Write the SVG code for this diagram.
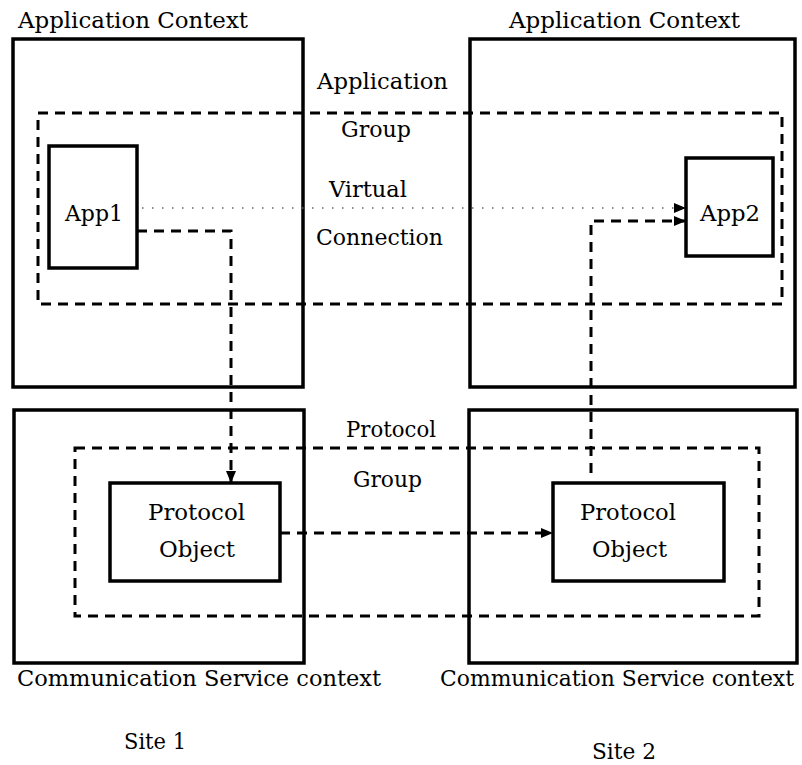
<svg xmlns="http://www.w3.org/2000/svg" width="802" height="765" viewBox="0 0 802 765">
<defs>
<style>
.box{fill:none;stroke:#000;stroke-width:3.5}
.grp{fill:none;stroke:#000;stroke-width:3;stroke-dasharray:10 7}
.con{fill:none;stroke:#000;stroke-width:3;stroke-dasharray:10 7}
.dot{fill:none;stroke:#666;stroke-width:1.5;stroke-dasharray:1.5 8.5}
text{font-family:"DejaVu Serif","Liberation Serif",serif;font-size:22px;fill:#000}
</style>
<marker id="ah" markerUnits="userSpaceOnUse" markerWidth="12" markerHeight="10" refX="12" refY="5" orient="auto">
<path d="M0,0 L12,5 L0,10 Z" fill="#000"/>
</marker>
</defs>
<rect width="802" height="765" fill="#fff"/>
<g id="app-context-1">
<rect class="box" x="13" y="39" width="290" height="348"/>
<text x="18" y="28" textLength="230" lengthAdjust="spacingAndGlyphs">Application Context</text>
</g>
<g id="app-context-2">
<rect class="box" x="470" y="39" width="325" height="348"/>
<text x="509" y="28" textLength="231" lengthAdjust="spacingAndGlyphs">Application Context</text>
</g>
<g id="application-group">
<rect class="grp" x="38" y="113" width="744" height="191"/>
<text x="317" y="89" textLength="131" lengthAdjust="spacingAndGlyphs">Application</text>
<text x="341" y="137" textLength="70" lengthAdjust="spacingAndGlyphs">Group</text>
</g>
<g id="app1">
<rect class="box" x="49" y="146" width="88" height="122"/>
<text x="65" y="221" textLength="58" lengthAdjust="spacingAndGlyphs">App1</text>
</g>
<g id="app2">
<rect class="box" x="686" y="158" width="87" height="98"/>
<text x="700" y="221" textLength="60" lengthAdjust="spacingAndGlyphs">App2</text>
</g>
<g id="comm-context-1">
<rect class="box" x="14" y="410" width="290" height="253"/>
<text x="17" y="686" textLength="364" lengthAdjust="spacingAndGlyphs">Communication Service context</text>
</g>
<g id="comm-context-2">
<rect class="box" x="469" y="410" width="328" height="253"/>
<text x="440" y="686" textLength="354" lengthAdjust="spacingAndGlyphs">Communication Service context</text>
</g>
<g id="protocol-group">
<rect class="grp" x="75" y="448" width="684" height="168"/>
<text x="346" y="437" textLength="90" lengthAdjust="spacingAndGlyphs">Protocol</text>
<text x="353" y="487" textLength="69" lengthAdjust="spacingAndGlyphs">Group</text>
</g>
<g id="protocol-object-1">
<rect class="box" x="110" y="483" width="170" height="98"/>
<text x="148" y="520" textLength="97" lengthAdjust="spacingAndGlyphs">Protocol</text>
<text x="159" y="557" textLength="76" lengthAdjust="spacingAndGlyphs">Object</text>
</g>
<g id="protocol-object-2">
<rect class="box" x="553" y="483" width="171" height="98"/>
<text x="580" y="520" textLength="96" lengthAdjust="spacingAndGlyphs">Protocol</text>
<text x="592" y="557" textLength="75" lengthAdjust="spacingAndGlyphs">Object</text>
</g>
<g id="site-labels">
<text x="124" y="749" textLength="62" lengthAdjust="spacingAndGlyphs">Site 1</text>
<text x="592" y="759" textLength="64" lengthAdjust="spacingAndGlyphs">Site 2</text>
</g>
<g id="connectors">
<path class="dot" d="M142,208 H686" marker-end="url(#ah)"/>
<text x="329" y="197" textLength="78" lengthAdjust="spacingAndGlyphs">Virtual</text>
<text x="316" y="245" textLength="127" lengthAdjust="spacingAndGlyphs">Connection</text>
<path class="con" d="M137,231 H231 V483" marker-end="url(#ah)"/>
<path class="con" d="M280,533 H553" marker-end="url(#ah)"/>
<path class="con" d="M591,473 V221 H686" marker-end="url(#ah)"/>
</g>
</svg>
